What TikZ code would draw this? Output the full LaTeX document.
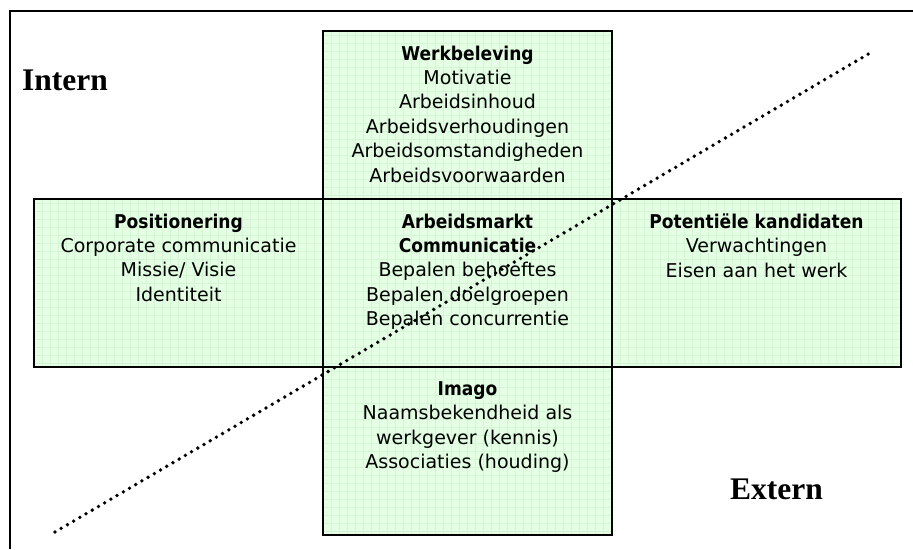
\documentclass[tikz,border=0pt]{standalone}
\usepackage{fontspec}
\setmainfont{Liberation Serif}
\newfontfamily\boxfont{DejaVu Sans}[BoldFeatures={FakeStretch=0.9}]
\usetikzlibrary{positioning}
\definecolor{boxgreen}{RGB}{228,255,228}
\definecolor{gridgreen}{RGB}{212,246,212}

\begin{document}
\begin{tikzpicture}[x=1pt, y=-1pt,
  main/.style = {draw, line width=1.8pt, fill=boxgreen, minimum width=289pt, minimum height=168pt, inner sep=0pt, outer sep=0pt,
    path picture={\draw[gridgreen, line width=0.5pt, step=8pt] (path picture bounding box.south west) grid (path picture bounding box.north east);}},
  txt/.style = {align=center, inner sep=0pt, font=\boxfont\fontsize{19}{24.4}\selectfont},
  side/.style = {anchor=base west, inner sep=0pt, font=\bfseries\fontsize{31.5}{36}\selectfont},
  dots/.style = {line width=3.8pt, line cap=round, dash pattern=on 0pt off 7.2pt}]
      \useasboundingbox (0,0) rectangle (913,549);
      \draw[line width=2.8pt] (10,549) |- (913,11);

      \node[main](1) at (467.5,283) {};

      \node[main](2) [above=0pt of 1]{};
      \node[main](3) [left=0pt of 1]{};
      \node[main](4) [right=0pt of 1]{};
      \node[main](5) [below=0pt of 1]{};

      \node[txt](t1) [below=14.5pt of 1.north]{\textbf{Arbeidsmarkt}\\\textbf{Communicatie}\\Bepalen behoeftes\\Bepalen doelgroepen\\Bepalen concurrentie};
      \node[txt](t2) [below=14.5pt of 2.north]{\textbf{Werkbeleving}\\Motivatie\\Arbeidsinhoud\\Arbeidsverhoudingen\\Arbeidsomstandigheden\\Arbeidsvoorwaarden};
      \node[txt](t3) [below=14.5pt of 3.north]{\textbf{Positionering}\\Corporate communicatie\\Missie/ Visie\\Identiteit};
      \node[txt](t4) [below=14.5pt of 4.north]{\textbf{Potentiële kandidaten}\\Verwachtingen\\Eisen aan het werk};
      \node[txt](t5) [below=14.5pt of 5.north]{\textbf{Imago}\\Naamsbekendheid als\\werkgever (kennis)\\Associaties (houding)};

      \node[side](in) at (22,90){Intern};
      \node[side](ex) at (730,499){Extern};

      \coordinate (d1) at (55,532);
      \coordinate (d2) at (870,53);
      \draw[dots] (d1) -- (d2);
    \end{tikzpicture}
\end{document}
